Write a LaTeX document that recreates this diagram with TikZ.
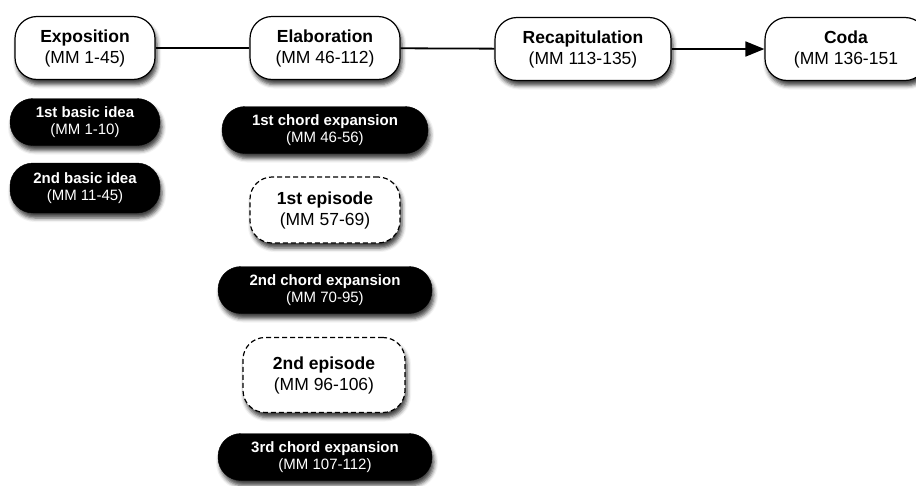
\documentclass[tikz,border=0pt]{standalone}
\usepackage{fontspec}
\setmainfont{Liberation Sans}
\usetikzlibrary{arrows.meta,shadows.blur}

\begin{document}
\begin{tikzpicture}[x=1pt, y=-1pt,
    shade/.style={blur shadow={shadow xshift=2pt, shadow yshift=-5pt, shadow blur radius=4pt, shadow opacity=75}},
    section/.style={draw, line width=1.2pt, fill=white, rounded corners=22pt, shade,
      minimum height=63pt, inner sep=0pt, align=center, font=\fontsize{17.5}{21}\selectfont},
    part/.style={draw, fill=black, text=white, rounded corners=23pt, shade,
      minimum height=47pt, inner sep=0pt, align=center, font=\fontsize{15}{17.5}\selectfont},
    episode/.style={section, dash pattern=on 5pt off 3pt},
    link/.style={line width=1.8pt}]
	\useasboundingbox (0,0) rectangle (916,485);
	\clip (0,0) rectangle (916,485);
	
	% Main sections
	\node[section, minimum width=140pt] (expo) at (85,48) {\textbf{Exposition}\\(MM 1-45)};
	\node[section, minimum width=150pt] (elab) at (325,48) {\textbf{Elaboration}\\(MM 46-112)};
	\node[section, minimum width=176pt] (recap) at (583,49) {\textbf{Recapitulation}\\(MM 113-135)};
	\node[section, minimum width=162pt] (coda) at (846,49) {\textbf{Coda}\\(MM 136-151};
	
	\draw[link] (expo) -- (elab);
	\draw[link] (elab) -- (recap);
	\draw[link, -{Triangle[length=19pt, width=15pt]}] (recap) -- (coda);
	
	% Exposition parts
	\node[part, minimum width=150pt] (idea1) at (85,122) {\textbf{1st basic idea}\\(MM 1-10)};
	\node[part, minimum width=150pt, minimum height=50pt] (idea2) at (85,188) {\textbf{2nd basic idea}\\(MM 11-45)};
	
	% Elaboration parts
	\node[part, minimum width=206pt] (chord1) at (325,130) {\textbf{1st chord expansion}\\(MM 46-56)};
	\node[episode, minimum width=150pt, minimum height=66pt] (epi1) at (325,210) {\textbf{1st episode}\\(MM 57-69)};
	\node[part, minimum width=214pt] (chord2) at (325,290) {\textbf{2nd chord expansion}\\(MM 70-95)};
	\node[episode, minimum width=162pt, minimum height=75pt] (epi2) at (324,375) {\textbf{2nd episode}\\(MM 96-106)};
	\node[part, minimum width=214pt] (chord3) at (325,457) {\textbf{3rd chord expansion}\\(MM 107-112)};
\end{tikzpicture}
\end{document}
